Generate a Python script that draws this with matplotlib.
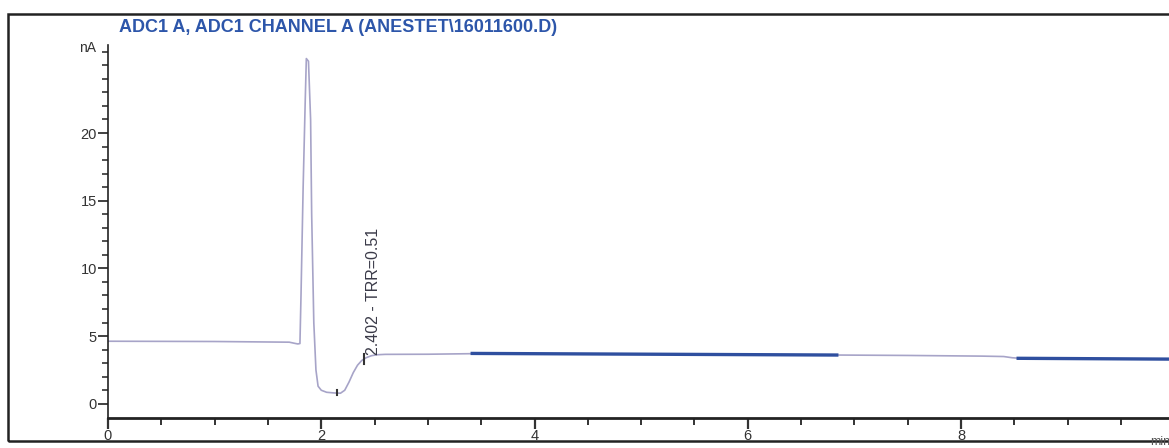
import matplotlib
matplotlib.use("Agg")
import matplotlib.pyplot as plt
import numpy as np
from matplotlib.patches import Rectangle

plt.rcParams['font.family'] = ['Liberation Sans', 'DejaVu Sans']

# signal trace (min, nA)
time_min = [0.00, 1.00, 1.70, 1.76, 1.78, 1.80, 1.81, 1.83, 1.85, 1.86, 1.88,
            1.90, 1.91, 1.93, 1.95, 1.97, 2.00, 2.05, 2.12, 2.18, 2.22, 2.26,
            2.30, 2.34, 2.38, 2.42, 2.47, 2.52, 2.60, 3.00, 3.40, 4.50, 5.50,
            6.85, 7.50, 8.20, 8.40, 8.48, 8.55, 9.20, 9.95]
signal_nA = [4.62, 4.60, 4.55, 4.45, 4.42, 4.45, 8.0, 16.0, 22.5, 25.5, 25.3,
             21.0, 14.0, 6.0, 2.5, 1.3, 1.0, 0.85, 0.80, 0.78, 1.00, 1.60,
             2.30, 2.85, 3.20, 3.40, 3.55, 3.62, 3.65, 3.66, 3.70, 3.68, 3.66,
             3.60, 3.57, 3.52, 3.49, 3.40, 3.36, 3.33, 3.30]

# integration baselines (blue segments)
base1_t = [3.40, 6.85]
base1_v = [3.72, 3.60]
base2_t = [8.52, 9.95]
base2_v = [3.36, 3.30]

peak_rt = 2.402
peak_label = "2.402 - TRR=0.51"
title = "ADC1 A, ADC1 CHANNEL A (ANESTET\\16011600.D)"
xticks_major = [0, 2, 4, 6, 8]
yticks_major = [0, 5, 10, 15, 20]

fig = plt.figure(figsize=(11.69, 4.48), dpi=100)
ax = fig.add_axes([108/1169, 1 - 418/448, 1 - 108/1169, (418 - 45)/448])

trace_col = '#a7a4c8'
blue = '#2f4f9f'
ax.plot(time_min, signal_nA, color=trace_col, lw=1.2, zorder=2)
ax.plot(base1_t, base1_v, color=blue, lw=2.4, zorder=3, solid_capstyle='butt')
ax.plot(base2_t, base2_v, color=blue, lw=2.4, zorder=3, solid_capstyle='butt')

# peak marks
yp = np.interp(peak_rt, time_min, signal_nA)
ax.plot([peak_rt, peak_rt], [yp - 0.35, yp + 0.35], color='#333333', lw=1.5, zorder=4)
ax.plot([2.15, 2.15], [0.62, 1.0], color='#333333', lw=1.5, zorder=4)
ax.text(peak_rt + 0.09, yp + 0.3, peak_label, rotation=90, ha='center', va='bottom',
        fontsize=11.5, color='#3a3a48')

ax.set_xlim(0, 9.95)
ax.set_ylim(-1.05, 26.5)
for s in ['top', 'right']:
    ax.spines[s].set_visible(False)
ax.spines['left'].set_color('#222222')
ax.spines['bottom'].set_color('#222222')
ax.spines['left'].set_linewidth(1.2)
ax.spines['bottom'].set_linewidth(2.0)

ax.set_xticks(xticks_major)
ax.set_xticks(np.arange(0, 10, 0.5), minor=True)
ax.set_yticks(yticks_major)
ax.set_yticks(np.arange(0, 27, 1), minor=True)
ax.tick_params(axis='x', which='major', direction='out', length=8, width=1.6,
               labelsize=10.5, pad=0, colors='#333333')
ax.tick_params(axis='x', which='minor', direction='out', length=5, width=1.4, colors='#333333')
ax.tick_params(axis='y', which='major', direction='out', length=7, width=1.3,
               labelsize=10.5, pad=1, colors='#333333')
ax.tick_params(axis='y', which='minor', direction='out', length=4, width=1.2, colors='#333333')

fig.text(88/1169, 1 - 48/448, 'nA', fontsize=10, color='#333333', ha='center', va='center')
fig.text(1160/1169, 1 - 442/448, 'min', fontsize=9, color='#555555', ha='center', va='center')
fig.text(119/1169, 1 - 27/448, title, fontsize=13, fontweight='bold', color='#2d56aa',
         ha='left', va='center')

fig.patches.append(Rectangle((8/1169, 1 - 441/448), 1.2, (441 - 14)/448, transform=fig.transFigure,
                             fill=False, edgecolor='#222222', lw=1.8))

fig.savefig('out.png', dpi=100)
